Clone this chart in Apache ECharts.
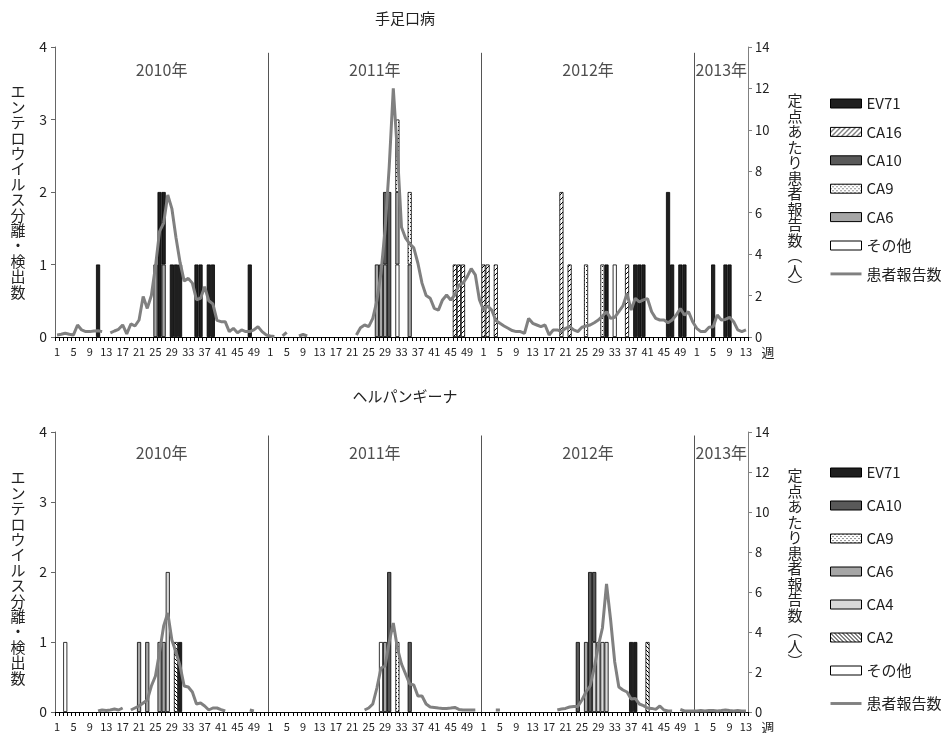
<!DOCTYPE html>
<html><head><meta charset="utf-8">
<script src="https://cdn.jsdelivr.net/npm/echarts@6/dist/echarts.min.js"></script>
<style>html,body{margin:0;padding:0;background:#fff}#c{width:948px;height:733px}</style>
</head><body><div id="c"></div>
<script>
// ---------- axis categories ----------
const years = ['2010', '2011', '2012', '2013'];
const yearWeeks = [52, 52, 52, 13];

// ---------- 手足口病 (top panel): [year, week, count] ----------
const hfmdEV71 = [[2010,11,1],[2010,26,2],[2010,27,1],[2010,29,1],[2010,30,1],[2010,31,1],[2010,35,1],[2010,36,1],[2010,38,1],[2010,39,1],[2010,48,1],
  [2012,31,1],[2012,38,1],[2012,39,1],[2012,40,1],[2012,46,2],[2012,47,1],[2012,49,1],[2012,50,1],[2013,5,1],[2013,8,1],[2013,9,1]];
const hfmdCA16 = [[2011,46,1],[2011,47,1],[2011,48,1],[2012,1,1],[2012,2,1],[2012,4,1],[2012,20,2],[2012,22,1],[2012,36,1]];
const hfmdCA10 = [[2011,29,1],[2011,30,2]];
const hfmdCA9 = [[2011,32,1],[2011,35,1],[2012,26,1],[2012,30,1]];
const hfmdCA6 = [[2010,25,1],[2010,27,1],[2011,27,1],[2011,28,1],[2011,29,1],[2011,32,1],[2011,35,1]];
const hfmdOther = [[2011,32,1],[2012,33,1]];
// 定点あたり患者報告数 (weekly)
const hfmd2010 = [0.1,0.13,0.18,0.13,0.1,0.58,0.34,0.26,0.26,0.29,0.3,0.26,
  null,0.2,0.29,0.37,0.58,0.15,0.63,0.53,0.82,1.95,1.38,2.0,
  3.4,5.1,5.5,6.86,6.2,4.8,3.6,2.7,2.83,2.6,1.8,1.87,
  2.43,1.75,1.6,0.8,0.74,0.74,0.26,0.42,0.2,0.34,0.26,0.26,
  0.34,0.5,0.26,0.1];
const hfmd2011 = [0.05,0.02,null,0.05,0.22,null,null,0.05,0.12,0.05,null,null,
  null,null,null,null,null,null,null,null,null,0.1,0.45,0.58,
  0.5,0.9,1.75,3.1,5.2,8.2,12.0,8.9,5.3,4.77,4.5,4.3,
  3.56,2.6,2.0,1.87,1.38,1.3,1.79,2.03,1.79,2.03,2.51,2.6,
  2.9,3.3,3.0,1.8];
const hfmd2012 = [1.3,1.5,1.3,0.8,0.66,0.53,0.42,0.31,0.26,0.26,0.18,0.9,
  0.66,0.58,0.5,0.58,0.1,0.34,0.34,0.26,0.42,0.5,0.34,0.26,
  0.47,0.53,0.58,0.69,0.82,1.01,1.22,0.9,0.95,1.22,1.5,2.1,
  1.3,1.87,1.7,1.79,1.85,1.22,0.9,0.82,0.82,0.69,0.82,1.06,
  1.38,1.06,1.22,0.74];
const hfmd2013 = [0.42,0.26,0.26,0.47,0.5,1.06,0.82,0.85,0.95,0.74,0.34,0.26,0.34];

// ---------- ヘルパンギーナ (bottom panel): [year, week, count] ----------
const hpEV71 = [[2010,31,1],[2012,37,1],[2012,38,1]];
const hpCA10 = [[2011,30,2],[2011,35,1],[2012,24,1],[2012,27,2],[2012,28,1]];
const hpCA9 = [[2011,32,1]];
const hpCA6 = [[2010,21,1],[2010,23,1],[2010,26,1],[2010,27,1],[2011,29,1],[2012,26,1]];
const hpCA4 = [[2010,28,2],[2012,28,1],[2012,29,1],[2012,30,1],[2012,31,1]];
const hpCA2 = [[2010,30,1],[2012,41,1]];
const hpOther = [[2010,3,1],[2011,28,1]];
const hp2010 = [null,null,null,null,null,null,null,null,null,null,
  0.05,0.1,0.08,0.1,0.15,0.1,0.2,null,
  0.1,0.2,0.3,0.45,0.6,1.3,1.8,3.0,4.3,4.95,3.6,3.0,
  2.3,1.3,1.25,1.0,0.4,0.45,0.3,0.1,0.2,0.2,0.12,0.05,
  null,null,null,null,null,0.1,0.05,null,null,null];
const hp2011 = [null,null,null,null,null,null,null,null,null,null,null,null,
  null,null,null,null,null,null,null,null,null,null,null,
  0.1,0.2,0.4,1.2,2.2,2.3,3.5,4.45,3.2,2.4,1.9,1.4,
  1.35,0.8,0.8,0.4,0.25,0.23,0.2,0.18,0.18,0.2,0.23,0.13,
  0.1,0.1,0.1,0.1,null];
const hp2012 = [null,null,null,0.1,0.1,
  null,null,null,null,null,null,null,null,null,null,null,null,null,
  0.1,0.15,0.18,0.25,0.28,0.28,0.6,1.0,1.3,2.2,3.3,4.2,
  6.4,4.6,2.5,1.25,1.1,1.0,0.65,0.68,0.4,0.32,0.2,0.18,
  0.13,0.3,0.1,0.05,0.05,null,0.13,0.05,0.05,0.05];
const hp2013 = [0.05,0.07,0.05,0.08,0.07,0.05,0.07,0.1,0.07,0.05,0.07,0.05,0.05];

// ---------- helpers ----------
const FONT = "'Noto Sans CJK JP', 'Noto Sans', sans-serif";
const TXT = '#222';
const yearStart = []; let acc = 0;
yearWeeks.forEach(w => { yearStart.push(acc); acc += w; });
const N = acc;
const categories = [];
years.forEach((y, k) => { for (let w = 1; w <= yearWeeks[k]; w++) categories.push(y + '-' + w); });
function pos(y, w) { return yearStart[years.indexOf(String(y))] + w - 1; }
function expand(list) { const a = new Array(N).fill(null); list.forEach(([y, w, v]) => { a[pos(y, w)] = v; }); return a; }

function makePattern(size, draw) {
  const c = document.createElement('canvas'); c.width = size; c.height = size;
  const g = c.getContext('2d'); g.fillStyle = '#fff'; g.fillRect(0, 0, size, size); draw(g, size);
  return { image: c, repeat: 'repeat' };
}
const hatchFwd = makePattern(5, (g, s) => { g.strokeStyle = '#000'; g.lineWidth = 1; g.beginPath();
  g.moveTo(0, s); g.lineTo(s, 0); g.moveTo(-1, 1); g.lineTo(1, -1); g.moveTo(s - 1, s + 1); g.lineTo(s + 1, s - 1); g.stroke(); });
const hatchBack = makePattern(4, (g, s) => { g.strokeStyle = '#000'; g.lineWidth = 1; g.beginPath();
  g.moveTo(0, 0); g.lineTo(s, s); g.moveTo(s - 1, -1); g.lineTo(s + 1, 1); g.moveTo(-1, s - 1); g.lineTo(1, s + 1); g.stroke(); });
const dots = makePattern(4, (g) => { g.fillStyle = '#222'; g.fillRect(0, 0, 1, 1); g.fillRect(2, 2, 1, 1); });

const COL = { EV71: '#1f1f1f', CA16: hatchFwd, CA10: '#595959', CA9: dots, CA6: '#a6a6a6', CA4: '#d9d9d9', CA2: hatchBack, 'その他': '#ffffff' };

function bar(name, list, xi, yi, stack) {
  return { type: 'bar', name, stack, xAxisIndex: xi, yAxisIndex: yi, data: expand(list),
    barCategoryGap: '0%', barGap: '0%', z: 2, silent: true,
    itemStyle: { color: COL[name], borderColor: '#000', borderWidth: 0.8 } };
}
function line(data, xi, yi) {
  return { type: 'line', name: '患者報告数', xAxisIndex: xi, yAxisIndex: yi, data, symbol: 'none', showSymbol: false,
    connectNulls: false, z: 5, silent: true, lineStyle: { color: '#808080', width: 3 }, itemStyle: { color: '#808080' } };
}
function yearMarks(xi, yi, labelY, lineTop) {
  return { type: 'scatter', xAxisIndex: xi, yAxisIndex: yi, symbolSize: 1, silent: true, z: 1,
    itemStyle: { color: 'transparent' },
    data: years.map((y, k) => [yearStart[k] + yearWeeks[k] / 2, labelY, y + '年']),
    label: { show: true, position: 'inside', formatter: p => p.data[2], fontSize: 16, color: TXT, fontFamily: FONT },
    markLine: { silent: true, symbol: ['none', 'none'], label: { show: false }, animation: false,
      lineStyle: { color: '#555', width: 1, type: 'solid' },
      data: yearStart.slice(1).map(s => [{ coord: [s, 0] }, { coord: [s, lineTop] }]) } };
}
function catAxis(gi) {
  return { type: 'category', gridIndex: gi, data: categories, boundaryGap: true,
    axisLine: { lineStyle: { color: '#000', width: 1 } },
    axisTick: { show: true, interval: 0, length: 4, lineStyle: { color: '#000' } },
    axisLabel: { interval: (i, v) => (Number(v.split('-')[1]) - 1) % 4 === 0, formatter: v => v.split('-')[1],
      fontSize: 11, color: TXT, margin: 9, fontFamily: FONT } };
}
function hidAxis(gi) { return { type: 'value', gridIndex: gi, min: 0, max: N, show: false }; }
function leftAxis(gi) {
  return { type: 'value', gridIndex: gi, position: 'left', min: 0, max: 4, interval: 1,
    axisLine: { show: true, lineStyle: { color: '#666' } }, axisTick: { show: true, length: 4, lineStyle: { color: '#666' } },
    splitLine: { show: false }, axisLabel: { fontSize: 14, color: TXT, margin: 8, fontFamily: FONT } };
}
function rightAxis(gi) {
  return { type: 'value', gridIndex: gi, position: 'right', min: 0, max: 14, interval: 2,
    axisLine: { show: true, lineStyle: { color: '#808080' } }, axisTick: { show: true, length: 4, lineStyle: { color: '#808080' } },
    splitLine: { show: false }, axisLabel: { fontSize: 13, color: TXT, margin: 7, fontFamily: FONT } };
}
const vert = s => s.split('').join('\n');
function ttl(text, left, top, size, lh) {
  return { text, left, top, textAlign: 'center', padding: 0,
    textStyle: { fontSize: size, fontWeight: 'normal', color: TXT, fontFamily: FONT, lineHeight: lh || size * 1.2 } };
}
const lineIcon = { name: '患者報告数', icon: 'path://M0 0H32V3H0Z', itemStyle: { color: '#808080', borderWidth: 0 } };
function legend(top, gap, names) {
  return { orient: 'vertical', left: 830, top, padding: 0, itemWidth: 31, itemHeight: 9, itemGap: gap, icon: 'rect', selectedMode: false,
    itemStyle: { borderColor: '#000', borderWidth: 1 }, textStyle: { fontSize: 15, color: TXT, fontFamily: FONT },
    data: names.map(n => ({ name: n })).concat([lineIcon]) };
}

const option = {
  animation: false,
  textStyle: { fontFamily: FONT },
  title: [
    ttl('手足口病', 405, 9, 15),
    ttl('ヘルパンギーナ', 405, 387, 15),
    ttl(vert('エンテロウイルス分離・検出数'), 18, 84, 15, 15.4),
    ttl(vert('エンテロウイルス分離・検出数'), 18, 470, 15, 15.4),
    ttl(vert('定点あたり患者報告数︵人︶'), 795, 93, 15, 15.5),
    ttl(vert('定点あたり患者報告数︵人︶'), 795, 468, 15, 15.5),
    ttl('週', 768, 344, 13),
    ttl('週', 768, 719, 13)
  ],
  legend: [
    legend(96, 13.4, ['EV71', 'CA16', 'CA10', 'CA9', 'CA6', 'その他']),
    legend(465, 18, ['EV71', 'CA10', 'CA9', 'CA6', 'CA4', 'CA2', 'その他'])
  ],
  grid: [
    { left: 55, right: 200, top: 47, height: 290 },
    { left: 55, right: 200, top: 432, height: 280 }
  ],
  xAxis: [catAxis(0), hidAxis(0), catAxis(1), hidAxis(1)],
  yAxis: [leftAxis(0), rightAxis(0), leftAxis(1), rightAxis(1)],
  series: [
    yearMarks(1, 0, 3.69, 3.92),
    bar('その他', hfmdOther, 0, 0, 'top'),
    bar('CA6', hfmdCA6, 0, 0, 'top'),
    bar('CA9', hfmdCA9, 0, 0, 'top'),
    bar('CA10', hfmdCA10, 0, 0, 'top'),
    bar('CA16', hfmdCA16, 0, 0, 'top'),
    bar('EV71', hfmdEV71, 0, 0, 'top'),
    line(hfmd2010.concat(hfmd2011, hfmd2012, hfmd2013), 0, 1),
    yearMarks(3, 2, 3.7, 3.95),
    bar('その他', hpOther, 2, 2, 'bot'),
    bar('CA2', hpCA2, 2, 2, 'bot'),
    bar('CA4', hpCA4, 2, 2, 'bot'),
    bar('CA6', hpCA6, 2, 2, 'bot'),
    bar('CA9', hpCA9, 2, 2, 'bot'),
    bar('CA10', hpCA10, 2, 2, 'bot'),
    bar('EV71', hpEV71, 2, 2, 'bot'),
    line(hp2010.concat(hp2011, hp2012, hp2013), 2, 3)
  ]
};
const chart = echarts.init(document.getElementById('c'), null, { renderer: 'canvas' });
chart.setOption(option);
</script>
</body></html>
